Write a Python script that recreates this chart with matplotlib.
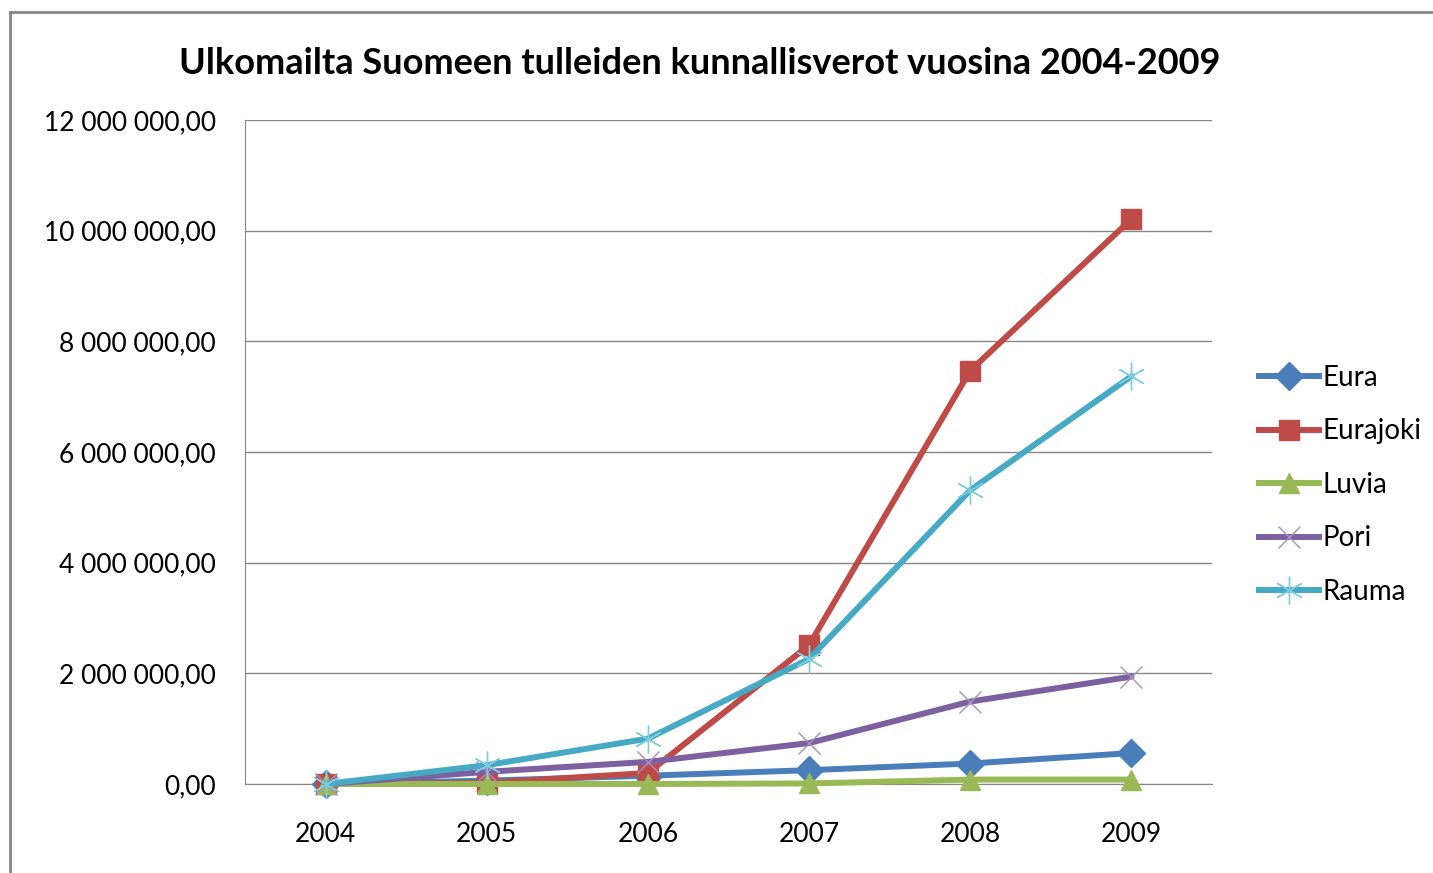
import matplotlib.pyplot as plt
from matplotlib.patches import Rectangle
from matplotlib.lines import Line2D
from matplotlib.ticker import FuncFormatter

plt.rcParams['font.family'] = ['Lato', 'DejaVu Sans']

# ----- Data -----
years = ['2004', '2005', '2006', '2007', '2008', '2009']
eura = [0, 60000, 150000, 250000, 370000, 560000]
eurajoki = [0, 20000, 200000, 2510000, 7470000, 10210000]
luvia = [0, 0, 0, 10000, 80000, 80000]
pori = [0, 220000, 400000, 740000, 1490000, 1940000]
rauma = [0, 340000, 820000, 2260000, 5310000, 7370000]

names = ['Eura', 'Eurajoki', 'Luvia', 'Pori', 'Rauma']
values = [eura, eurajoki, luvia, pori, rauma]
colors = ['#4A7EBB', '#BE4B48', '#98B954', '#7D60A0', '#46AAC5']

LW = 4.3


def style(i):
    # marker style per series, Excel 2007 defaults
    if i == 0:
        return dict(marker='D', ms=14, mec=colors[i])
    if i == 1:
        return dict(marker='s', ms=15, mec=colors[i])
    if i == 2:
        return dict(marker='^', ms=15, mec=colors[i])
    if i == 3:
        return dict(marker='x', ms=16, mew=1.0, mec='#A48FC0')
    return dict(marker=(6, 2, 0), ms=20, mew=1.0, mec='#7FCDE0')


fig = plt.figure(figsize=(14.33, 8.73), dpi=100)
ax = fig.add_axes([245 / 1433, 1 - 784 / 873, (1212 - 245) / 1433, (784 - 120) / 873])

x = list(range(len(years)))
for i, vals in enumerate(values):
    ax.plot(x, vals, color=colors[i], lw=LW, solid_capstyle='round',
            clip_on=False, zorder=3, **style(i))

ax.set_xlim(-0.5, 5.5)
ax.set_ylim(0, 12000000)
ax.set_xticks(x)
ax.set_xticklabels(years)
ax.set_yticks(range(0, 12000001, 2000000))


def fi_fmt(v, pos):
    return f'{v:,.2f}'.replace(',', ' ').replace('.', ',')


ax.yaxis.set_major_formatter(FuncFormatter(fi_fmt))
ax.tick_params(axis='both', length=0, labelsize=19, colors='#000000')
ax.tick_params(axis='y', pad=21)
ax.tick_params(axis='x', pad=27)
ax.grid(axis='y', color='#868686', lw=1.0)
ax.set_axisbelow(True)
for s in ['top', 'right']:
    ax.spines[s].set_visible(False)
ax.spines['left'].set_color('#868686')
ax.spines['bottom'].set_color('#868686')

fig.text(700 / 1433, 1 - 63 / 873, 'Ulkomailta Suomeen tulleiden kunnallisverot vuosina 2004-2009',
         ha='center', va='center', fontsize=26, fontweight='bold')

handles = [Line2D([], [], color=colors[i], lw=LW, **style(i)) for i in range(5)]
fig.legend(handles, names, loc='center left',
           bbox_to_anchor=(1245 / 1433, 1 - 485 / 873), frameon=False,
           fontsize=20, handlelength=2.15, handletextpad=0.15, labelspacing=0.99,
           borderpad=0)

fig.patches.append(Rectangle((10 / 1433, -0.05), 1.1, 1 - 12 / 873 + 0.05,
                             transform=fig.transFigure, fill=False,
                             edgecolor='#868686', lw=2))

fig.savefig('out.png', dpi=100)
